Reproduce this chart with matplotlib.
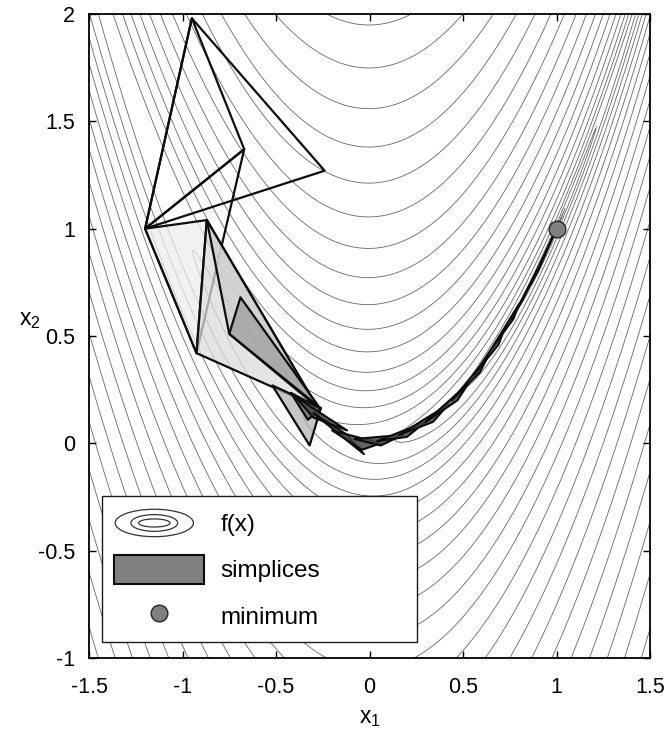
import numpy as np
import matplotlib.pyplot as plt
from matplotlib.patches import Polygon, Ellipse, Patch
from matplotlib.lines import Line2D
from matplotlib.legend_handler import HandlerBase

plt.rcParams['font.family'] = ['Liberation Sans', 'DejaVu Sans']
plt.rcParams['mathtext.fontset'] = 'custom'
plt.rcParams['mathtext.rm'] = 'Liberation Sans'
plt.rcParams['mathtext.it'] = 'Liberation Sans'
plt.rcParams['axes.unicode_minus'] = False

# plot window and ticks
x1_lim = (-1.5, 1.5)
x2_lim = (-1.0, 2.0)
x1_ticks = [-1.5, -1, -0.5, 0, 0.5, 1, 1.5]
x2_ticks = [-1, -0.5, 0, 0.5, 1, 1.5, 2]
x1_ticklabels = ["-1.5", "-1", "-0.5", "0", "0.5", "1", "1.5"]
x2_ticklabels = ["-1", "-0.5", "0", "0.5", "1", "1.5", "2"]

# contour levels are evenly spaced in f**(1/4)
level_step = 0.2325
n_levels = 26

# location of the minimum
x1_min = [1.0]
x2_min = [1.0]

# simplices visited by the search, (x1, x2) per vertex
simplices_big = [
    [(-1.20, 1.00), (-0.95, 1.98), (-0.67, 1.37)],
    [(-1.20, 1.00), (-0.95, 1.98), (-0.24, 1.27)],
    [(-1.20, 1.00), (-0.67, 1.37), (-0.925, 0.42)],
    [(-1.20, 1.00), (-0.87, 1.04), (-0.925, 0.42)],
    [(-0.87, 1.04), (-0.925, 0.42), (-0.28, 0.17)],
    [(-0.87, 1.04), (-0.75, 0.51), (-0.28, 0.17)],
    [(-0.69, 0.68), (-0.75, 0.51), (-0.27, 0.17)],
    [(-0.52, 0.27), (-0.26, 0.165), (-0.32, -0.01)],
    [(-0.42, 0.235), (-0.26, 0.16), (-0.33, 0.11)],
]
grey_big = [None, None, None, 0.93, 0.86, 0.80, 0.62, 0.70, 0.40]

# late, small simplices crawling along the valley floor
simplices_valley = [
    [(-0.40, 0.22), (-0.12, 0.06), (-0.30, 0.12)],
    [(-0.30, 0.14), (-0.03, -0.05), (-0.12, 0.04)],
    [(-0.20, 0.06), (0.06, 0.00), (-0.04, -0.03)],
    [(-0.08, 0.02), (0.18, 0.04), (0.06, -0.01)],
    [(0.04, 0.01), (0.30, 0.10), (0.20, 0.03)],
    [(0.16, 0.04), (0.42, 0.18), (0.34, 0.10)],
    [(0.30, 0.10), (0.53, 0.28), (0.47, 0.20)],
    [(0.44, 0.20), (0.63, 0.40), (0.59, 0.33)],
    [(0.56, 0.32), (0.72, 0.53), (0.69, 0.46)],
    [(0.66, 0.45), (0.80, 0.65), (0.77, 0.58)],
    [(0.76, 0.58), (0.90, 0.81), (0.82, 0.67)],
    [(0.86, 0.74), (1.00, 1.00), (0.90, 0.80)],
]
grey_valley = 0.28

legend_labels = ["f(x)", "simplices", "minimum"]


def rosenbrock(x1, x2):
    return 100.0 * (x2 - x1 ** 2) ** 2 + (1.0 - x1) ** 2


class ContourIcon:
    pass


class HandlerContourIcon(HandlerBase):
    # three nested ellipses standing for the level sets
    def create_artists(self, legend, orig_handle, xdescent, ydescent,
                       width, height, fontsize, trans):
        cx = 0.45 * width - xdescent
        cy = 0.5 * height - ydescent
        out = []
        for w, h in [(0.87, 0.95), (0.52, 0.58), (0.35, 0.28)]:
            out.append(Ellipse((cx, cy), w * width, h * height, fill=False,
                               ec='0.2', lw=0.9, transform=trans))
        return out


fig = plt.figure(figsize=(6.66, 7.37), dpi=100)
ax = fig.add_axes([89 / 666, 79 / 737, 561 / 666, 644 / 737])

g1 = np.linspace(x1_lim[0], x1_lim[1], 600)
g2 = np.linspace(x2_lim[0], x2_lim[1], 600)
X1, X2 = np.meshgrid(g1, g2)
F = rosenbrock(X1, X2)
levels = (level_step * np.arange(1, n_levels + 1)) ** 4
ax.contour(X1, X2, F, levels=levels, colors='0.4', linewidths=0.6, zorder=1)

for verts, g in zip(simplices_big, grey_big):
    fc = 'none' if g is None else (g, g, g, 0.75)
    ax.add_patch(Polygon(verts, closed=True, fc=fc, ec='0.05', lw=1.6,
                         joinstyle='round', zorder=2))
for verts in simplices_valley:
    ax.add_patch(Polygon(verts, closed=True,
                         fc=(grey_valley, grey_valley, grey_valley, 0.85),
                         ec='0.05', lw=1.5, joinstyle='round', zorder=2))

ax.plot(x1_min, x2_min, 'o', ms=12, mfc='0.5', mec='0.15', mew=1.0, zorder=3)

ax.set_xlim(*x1_lim)
ax.set_ylim(*x2_lim)
ax.set_xticks(x1_ticks)
ax.set_xticklabels(x1_ticklabels)
ax.set_yticks(x2_ticks)
ax.set_yticklabels(x2_ticklabels)
ax.tick_params(direction='in', length=5, width=1, top=True, right=True,
               labelsize=15.5)
ax.tick_params(axis='x', pad=14)
ax.tick_params(axis='y', pad=10)
for s in ax.spines.values():
    s.set_linewidth(1.3)

ax.set_xlabel(r'$\mathregular{x_1}$', fontsize=16.5)
ax.xaxis.set_label_coords(0.5, -0.075)
ax.set_ylabel(r'$\mathregular{x_2}$', fontsize=16.5, rotation=0, ha='center', va='center')
ax.yaxis.set_label_coords(-0.105, 0.525)

handles = [ContourIcon(),
           Patch(fc='0.5', ec='0.05', lw=1.5),
           Line2D([], [], ls='none', marker='o', ms=12, mfc='0.5', mec='0.15')]
leg = ax.legend(handles, legend_labels, loc='lower left',
                bbox_to_anchor=(0.0226, 0.0244, 0.5626, 0.2328), mode='expand',
                borderaxespad=0, fontsize=17.5, handlelength=3.7, handleheight=1.45,
                labelspacing=0.72, handletextpad=0.7, borderpad=0.5,
                fancybox=False, framealpha=1,
                handler_map={ContourIcon: HandlerContourIcon()})
leg.get_frame().set_edgecolor('0.1')
leg.get_frame().set_linewidth(1.0)
leg.set_zorder(5)

fig.savefig('out.png', dpi=100)
